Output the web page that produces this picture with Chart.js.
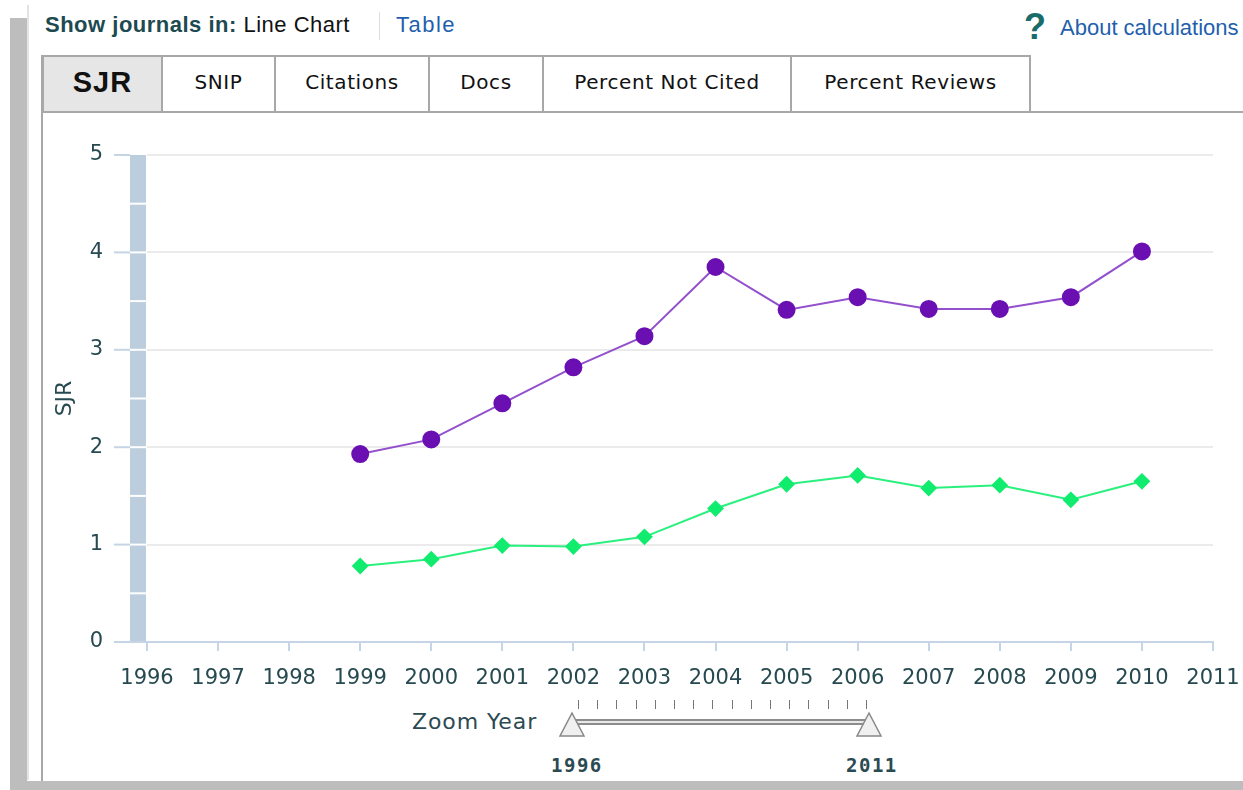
<!DOCTYPE html>
<html lang="en">
<head>
    <meta charset="UTF-8">
    <title>SJR</title>
    <style>
        body { margin:0; width:1243px; height:790px; background:#fff; position:relative; overflow:hidden; font-family:"Liberation Sans", Arial, sans-serif; }
        .abs { position:absolute; white-space:nowrap; }
        .tab { position:absolute; top:55px; height:56px; border:2px solid #a8a8a8; border-bottom:none; background:#fff; box-sizing:border-box; text-align:center; line-height:51px; color:#111; font-family:"DejaVu Sans", sans-serif; font-size:20px; letter-spacing:0.6px; }
        .tab.on { background:#e6e6e6; font-weight:bold; font-size:29px; letter-spacing:1px; font-family:"Liberation Sans", Arial, sans-serif; }
    </style>
</head>
<body>
    <div class="abs" style="left:10px;top:18px;width:17px;height:772px;background:#bdbdbd;"></div>
    <div class="abs" style="left:27px;top:5px;width:2px;height:775px;background:#e4e4e4;"></div>
    <div class="abs" style="left:10px;top:781px;width:1233px;height:9px;background:#bdbdbd;"></div>
    <div class="abs" style="left:41px;top:55px;width:2px;height:726px;background:#a8a8a8;"></div>

    <div class="abs" style="left:45px;top:12px;font-size:22px;letter-spacing:0.5px;"><b style="color:#1d4a50;">Show journals in:</b> <span style="color:#111;">Line Chart</span></div>
    <div class="abs" style="left:379px;top:12px;width:1px;height:28px;background:#ddd;"></div>
    <div class="abs" style="left:396px;top:12px;font-size:22px;letter-spacing:1.5px;color:#1f5fae;">Table</div>
    <div class="abs" style="left:1024px;top:6px;font-size:36px;font-weight:bold;color:#1c6b6b;">?</div>
    <div class="abs" style="left:1060px;top:15px;font-size:22px;color:#1f5fae;">About calculations</div>

    <div class="tab on" style="left:42px;width:121px;">SJR</div>
    <div class="tab" style="left:161px;width:115px;">SNIP</div>
    <div class="tab" style="left:274px;width:156px;">Citations</div>
    <div class="tab" style="left:428px;width:116px;">Docs</div>
    <div class="tab" style="left:542px;width:250px;">Percent Not Cited</div>
    <div class="tab" style="left:790px;width:241px;">Percent Reviews</div>
    <div class="abs" style="left:42px;top:111px;width:1201px;height:2px;background:#a8a8a8;"></div>

    <div class="abs" style="left:42px;top:114px;width:1200px;height:590px;">
        <canvas id="sjrChart"></canvas>
    </div>

    <div class="abs" style="left:412px;top:709px;font-family:'DejaVu Sans',sans-serif;font-size:22px;letter-spacing:0.9px;color:#2b4a52;">Zoom Year</div>
    <div id="sliderTicks"></div>
    <div class="abs" style="left:572px;top:719px;width:296px;height:6px;border-top:2px solid #8c8c8c;border-bottom:2px solid #8c8c8c;background:#e8e8e8;box-sizing:border-box;"></div>
    <svg class="abs" style="left:558px;top:711px;" width="28" height="28"><path d="M14 2 L26 25 L2 25 Z" fill="#f0f0f0" stroke="#888" stroke-width="1.5"/></svg>
    <svg class="abs" style="left:855px;top:711px;" width="28" height="28"><path d="M14 2 L26 25 L2 25 Z" fill="#f0f0f0" stroke="#888" stroke-width="1.5"/></svg>
    <div class="abs" style="left:551px;top:754px;font-family:'DejaVu Sans Mono',monospace;font-weight:bold;font-size:19px;letter-spacing:1.5px;color:#2b4a52;">1996</div>
    <div class="abs" style="left:846px;top:754px;font-family:'DejaVu Sans Mono',monospace;font-weight:bold;font-size:19px;letter-spacing:1.5px;color:#2b4a52;">2011</div>

<script src="https://cdn.jsdelivr.net/npm/chart.js"></script>
<script>
const years = [1999, 2000, 2001, 2002, 2003, 2004, 2005, 2006, 2007, 2008, 2009, 2010];
const purpleValues = [1.93, 2.08, 2.45, 2.82, 3.14, 3.85, 3.41, 3.54, 3.42, 3.42, 3.54, 4.01];
const greenValues = [0.78, 0.85, 0.99, 0.98, 1.08, 1.37, 1.62, 1.71, 1.58, 1.61, 1.46, 1.65];
const xTicks = [1996, 1997, 1998, 1999, 2000, 2001, 2002, 2003, 2004, 2005, 2006, 2007, 2008, 2009, 2010, 2011];
const yTicks = [0, 1, 2, 3, 4, 5];

// little tick marks above the zoom slider
let st = document.getElementById("sliderTicks");
xTicks.forEach((y, i) => {
    let d = document.createElement("div");
    d.className = "abs";
    d.style.cssText = "left:" + (578 + i * 19.2) + "px;top:700px;width:1px;height:9px;background:#777;";
    st.appendChild(d);
});

// the blue-grey bar next to the y axis, with its tick marks
const axisBar = {
    id: "axisBar",
    beforeDatasetsDraw(chart) {
        const ctx = chart.ctx;
        const ys = chart.scales.y;
        const left = chart.chartArea.left;
        const top = ys.getPixelForValue(5);
        const bottom = ys.getPixelForValue(0);
        ctx.save();
        ctx.fillStyle = "#bccddd";
        ctx.fillRect(left - 17, top, 16, bottom - top);
        ctx.strokeStyle = "#ffffff";
        ctx.lineWidth = 2;
        for (let v = 0.5; v < 5; v += 0.5) {
            const p = ys.getPixelForValue(v);
            ctx.beginPath(); ctx.moveTo(left - 17, p); ctx.lineTo(left - 1, p); ctx.stroke();
        }
        ctx.strokeStyle = "#c5d5e5";
        yTicks.forEach((v) => {
            const p = ys.getPixelForValue(v);
            ctx.beginPath(); ctx.moveTo(left - 33, p); ctx.lineTo(left - 17, p); ctx.stroke();
        });
        ctx.beginPath(); ctx.moveTo(left - 33, bottom); ctx.lineTo(left, bottom); ctx.stroke();
        ctx.restore();
    }
};

const ctx = document.getElementById("sjrChart");
new Chart(ctx, {
    type: "line",
    data: {
        datasets: [
            {
                label: "SJR",
                data: years.map((y, i) => ({ x: y, y: purpleValues[i] })),
                borderColor: "#9350cc",
                borderWidth: 2,
                pointBackgroundColor: "#6a0fb2",
                pointBorderColor: "#6a0fb2",
                pointRadius: 8,
                pointStyle: "circle",
            },
            {
                label: "SJR 2",
                data: years.map((y, i) => ({ x: y, y: greenValues[i] })),
                borderColor: "#2af07e",
                borderWidth: 2,
                pointBackgroundColor: "#11ec6e",
                pointBorderColor: "#11ec6e",
                pointRadius: 7,
                pointStyle: "rectRot",
            }
        ],
    },
    options: {
        responsive: true,
        maintainAspectRatio: false,
        animation: false,
        layout: { padding: { top: 41, right: 29, left: 0, bottom: 0 } },
        plugins: { legend: { display: false }, tooltip: { enabled: false } },
        scales: {
            x: {
                type: "linear",
                min: 1996,
                max: 2011,
                afterBuildTicks: (s) => { s.ticks = xTicks.map((v) => ({ value: v })); },
                afterFit: (s) => { s.height = 62; s.paddingLeft = 0; s.paddingRight = 0; },
                ticks: {
                    callback: (v) => String(v),
                    color: "#264a50",
                    font: { family: "DejaVu Sans", size: 21 },
                    padding: 15,
                    maxRotation: 0,
                    autoSkip: false,
                },
                grid: { drawOnChartArea: false, drawTicks: true, tickLength: 9, color: "#c5d5e5", lineWidth: 2 },
                border: { color: "#c5d5e5", width: 2 },
            },
            y: {
                min: 0,
                max: 5,
                afterBuildTicks: (s) => { s.ticks = yTicks.map((v) => ({ value: v })); },
                afterFit: (s) => { s.width = 105; s.paddingTop = 0; s.paddingBottom = 0; },
                title: { display: true, text: "SJR", color: "#264a50", font: { family: "DejaVu Sans", size: 22 }, padding: { top: 10, bottom: 0 } },
                ticks: { color: "#264a50", font: { family: "DejaVu Sans", size: 21 }, padding: 44 },
                grid: { drawTicks: false, color: "#ebebeb", lineWidth: 2 },
                border: { display: false },
            }
        }
    },
    plugins: [axisBar]
});
</script>
</body>
</html>
